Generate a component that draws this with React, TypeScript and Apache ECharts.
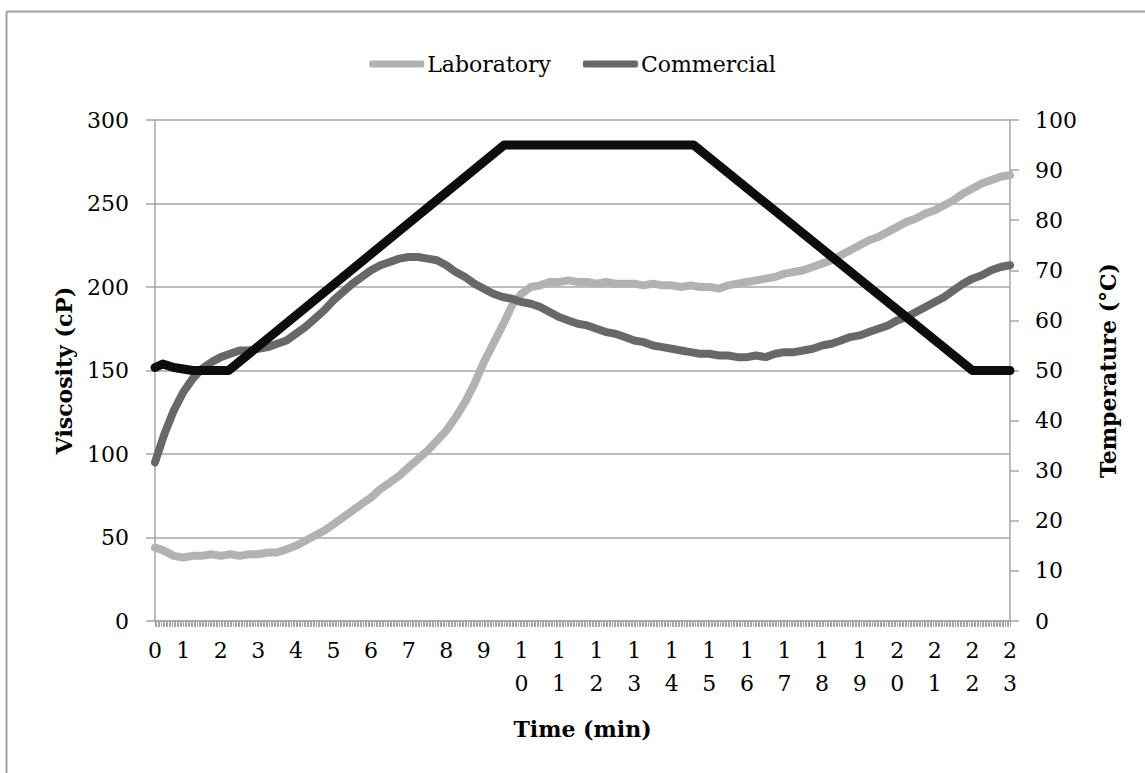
import React, { useEffect, useRef } from "react";
import * as echarts from "echarts";

// time axis: one category per 2.5 s (24 per minute), 0 .. 22.75 min
const CATS_PER_MIN = 24;
const TOTAL_CATS = 547;
const timeCategories: string[] = Array.from({ length: TOTAL_CATS }, (_, i) => (i / CATS_PER_MIN).toFixed(4));

// viscosity samples every 0.25 min
const sampleMinutes: number[] = Array.from({ length: 92 }, (_, i) => i * 0.25);

const laboratory: number[] = [
  44, 42, 39, 38, 39, 39, 40, 39,
  40, 39, 40, 40, 41, 41, 43, 45,
  48, 51, 54, 58, 62, 66, 70, 74,
  79, 83, 87, 92, 97, 102, 108, 114,
  122, 131, 142, 155, 166, 177, 189, 196,
  200, 201, 203, 203, 204, 203, 203, 202,
  203, 202, 202, 202, 201, 202, 201, 201,
  200, 201, 200, 200, 199, 201, 202, 203,
  204, 205, 206, 208, 209, 210, 212, 214,
  216, 219, 222, 225, 228, 230, 233, 236,
  239, 241, 244, 246, 249, 252, 256, 259,
  262, 264, 266, 267,
];

const commercial: number[] = [
  95, 112, 126, 137, 145, 151, 155, 158,
  160, 162, 162, 163, 164, 166, 168, 172,
  176, 181, 186, 192, 197, 202, 206, 210,
  213, 215, 217, 218, 218, 217, 216, 213,
  209, 206, 202, 199, 196, 194, 193, 191,
  190, 188, 185, 182, 180, 178, 177, 175,
  173, 172, 170, 168, 167, 165, 164, 163,
  162, 161, 160, 160, 159, 159, 158, 158,
  159, 158, 160, 161, 161, 162, 163, 165,
  166, 168, 170, 171, 173, 175, 177, 180,
  182, 185, 188, 191, 194, 198, 202, 205,
  207, 210, 212, 213,
];

// temperature profile (°C)
const tempMinutes: number[] = [0, 0.2, 0.5, 1, 1.95, 9.3, 14.35, 21.75, 22.75];
const temperature: number[] = [50.6, 51.3, 50.6, 50, 50, 95, 95, 50, 50];

const viscosityTicks = { min: 0, max: 300, interval: 50 };
const temperatureTicks = { min: 0, max: 100, interval: 10 };

const FONT = "DejaVu Serif";

export default function App() {
  const ref = useRef<HTMLDivElement>(null);

  useEffect(() => {
    if (!ref.current) return;
    const chart = echarts.init(ref.current, undefined, { renderer: "svg" });
    const toIdx = (t: number) => Math.round(t * CATS_PER_MIN);
    const labData = sampleMinutes.map((t, i) => [toIdx(t), laboratory[i]]);
    const comData = sampleMinutes.map((t, i) => [toIdx(t), commercial[i]]);
    const tempData = tempMinutes.map((t, i) => [toIdx(t), temperature[i]]);

    const axisColor = "#a6a6a6";

    chart.setOption({
      animation: false,
      backgroundColor: "#ffffff",
      textStyle: { fontFamily: FONT },
      graphic: [
        { type: "line", shape: { x1: 6.5, y1: 11.5, x2: 6.5, y2: 780 }, style: { stroke: "#a0a0a0", lineWidth: 2 } },
        { type: "line", shape: { x1: 6.5, y1: 11.5, x2: 1145, y2: 11.5 }, style: { stroke: "#a0a0a0", lineWidth: 2 } },
      ],
      legend: {
        data: ["Laboratory", "Commercial"],
        top: 48,
        left: "center",
        icon: "roundRect",
        itemWidth: 55,
        itemHeight: 7,
        itemGap: 32,
        textStyle: { fontFamily: FONT, fontSize: 22, color: "#000", padding: [0, 0, 0, -2] },
      },
      grid: { left: 155, right: 135, top: 120, bottom: 152, containLabel: false },
      xAxis: {
        type: "category",
        data: timeCategories,
        boundaryGap: false,
        name: "Time (min)",
        nameLocation: "middle",
        nameGap: 97,
        nameTextStyle: { fontFamily: FONT, fontSize: 22, fontWeight: "bold", color: "#000" },
        axisLine: { lineStyle: { color: axisColor, width: 1.5 } },
        axisTick: { show: true, interval: 0, length: 6, lineStyle: { color: axisColor, width: 1 } },
        axisLabel: {
          interval: (idx: number) => idx === 0 || idx % CATS_PER_MIN === 18,
          formatter: (v: string) => String(Math.round(parseFloat(v))).split("").join("\n"),
          fontFamily: FONT,
          fontSize: 22,
          color: "#000",
          lineHeight: 33,
          margin: 13,
        },
        splitLine: { show: false },
      },
      yAxis: [
        {
          type: "value",
          ...viscosityTicks,
          name: "Viscosity (cP)",
          nameLocation: "middle",
          nameGap: 80,
          nameRotate: 90,
          nameTextStyle: { fontFamily: FONT, fontSize: 22, fontWeight: "bold", color: "#000" },
          axisLine: { show: true, lineStyle: { color: axisColor, width: 1.5 } },
          axisTick: { show: true, length: 9, lineStyle: { color: axisColor, width: 1.5 } },
          axisLabel: { fontFamily: FONT, fontSize: 22, color: "#000", margin: 26 },
          splitLine: { show: true, lineStyle: { color: axisColor, width: 1.5 } },
        },
        {
          type: "value",
          ...temperatureTicks,
          position: "right",
          name: "Temperature (°C)",
          nameLocation: "middle",
          nameGap: 87,
          nameRotate: 90,
          nameTextStyle: { fontFamily: FONT, fontSize: 22, fontWeight: "bold", color: "#000" },
          axisLine: { show: true, lineStyle: { color: axisColor, width: 1.5 } },
          axisTick: { show: true, length: 9, lineStyle: { color: axisColor, width: 1.5 } },
          axisLabel: { fontFamily: FONT, fontSize: 22, color: "#000", margin: 25 },
          splitLine: { show: false },
        },
      ],
      series: [
        {
          name: "Laboratory",
          type: "line",
          yAxisIndex: 0,
          data: labData,
          showSymbol: false,
          symbol: "none",
          itemStyle: { color: "#b2b2b2" },
          lineStyle: { color: "#b2b2b2", width: 8, cap: "round", join: "round" },
          z: 2,
        },
        {
          name: "Commercial",
          type: "line",
          yAxisIndex: 0,
          data: comData,
          showSymbol: false,
          symbol: "none",
          itemStyle: { color: "#686868" },
          lineStyle: { color: "#686868", width: 8, cap: "round", join: "round" },
          z: 3,
        },
        {
          name: "Temperature",
          type: "line",
          yAxisIndex: 1,
          data: tempData,
          showSymbol: false,
          symbol: "none",
          itemStyle: { color: "#0d0d0d" },
          lineStyle: { color: "#0d0d0d", width: 9, cap: "round", join: "round" },
          z: 4,
        },
      ],
    });

    return () => chart.dispose();
  }, []);

  return (
    <div
      ref={ref}
      style={{ position: "absolute", left: 0, top: 0, width: 1145, height: 773 }}
    />
  );
}
